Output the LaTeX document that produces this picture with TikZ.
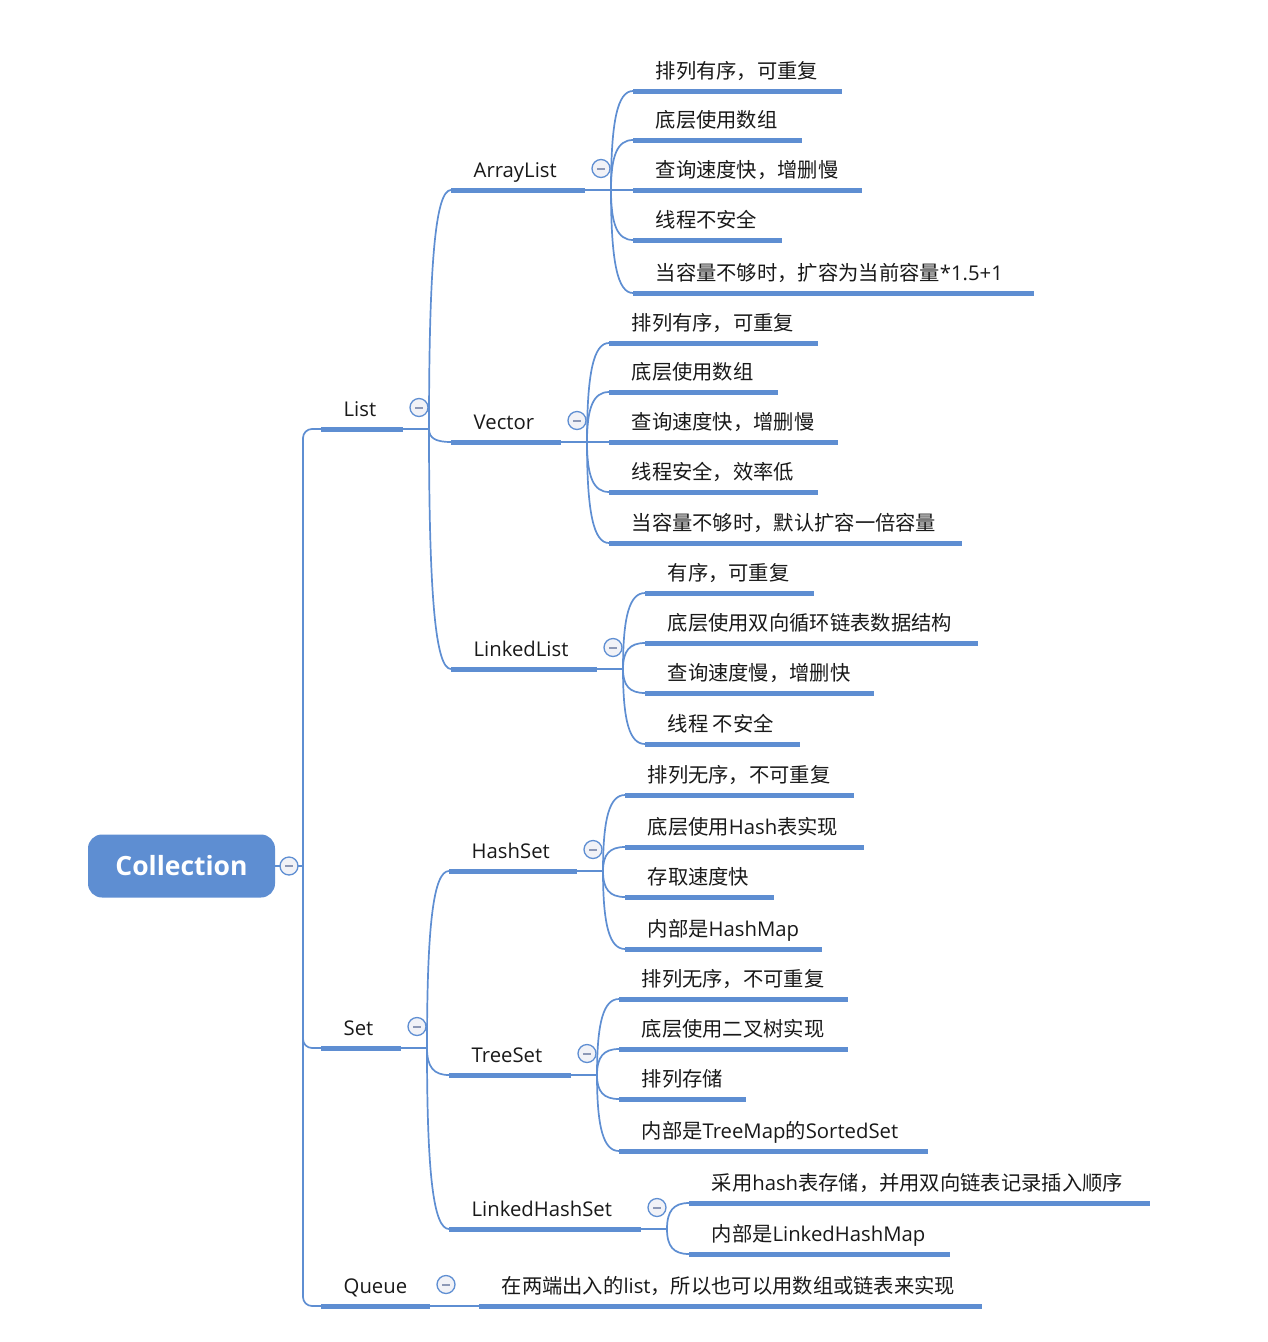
\documentclass[tikz,border=0pt]{standalone}
\usepackage{fontspec}
\setmainfont{Open Sans}
\newfontfamily\cjkfont{Noto Sans CJK SC}
\newcommand\zhs[1]{{\cjkfont #1}}
\usetikzlibrary{calc}
\definecolor{mmblue}{RGB}{94,142,210}
\definecolor{foldfill}{RGB}{241,242,247}
\definecolor{foldbar}{RGB}{140,152,182}
\tikzset{
  uline/.style={mmblue,line width=5pt},                % topic underline
  branch/.style={mmblue,line width=1.7pt},             % thin connector
  twig/.style={to path={.. controls ($(\tikztostart)!0.7!(\tikztostart |- \tikztotarget)$)
      and ($(\tikztostart |- \tikztotarget)!0.3!(\tikztotarget)$) .. (\tikztotarget)}}, % curved branch
  lbl/.style={anchor=base west,inner sep=0pt,text=black!90,font=\fontsize{20.3}{24}\selectfont},
  fold/.style={circle,draw=mmblue,fill=foldfill,line width=1.3pt,minimum size=18pt,inner sep=0pt,
    path picture={\draw[foldbar,line width=2pt] ([xshift=-4pt]path picture bounding box.center)
      -- ([xshift=4pt]path picture bounding box.center);}},  % collapse button
  rootbox/.style={rounded corners=14pt,fill=mmblue,text=white,minimum width=187pt,minimum height=63pt,
    inner sep=0pt,font=\fontsize{26.5}{30}\bfseries\selectfont},
}
% topic: name, x start, x end, y, text
\newcommand\mmtopic[5]{%
  \coordinate (#1-s) at (#2,#4);
  \coordinate (#1-e) at (#3,#4);
  \draw[uline] (#1-s) -- (#1-e);
  \node[lbl] (#1) at ($(#1-s)+(22.5,-13)$) {#5};
}
% junction and collapse button after a topic
\newcommand\mmhub[1]{%
  \coordinate (#1-j) at ($(#1-e)+(26,0)$);
  \draw[branch] (#1-e) -- (#1-j);
  \node[fold] (#1-f) at ($(#1-e)+(16,-21.5)$) {};
}

\begin{document}
\begin{tikzpicture}[x=1pt,y=-1pt]
  \useasboundingbox (0,0) rectangle (1268,1342);

  % root
  \node[rootbox] (root) at (181.5,866) {Collection};
  \coordinate (root-j) at (303,866);
  \draw[branch] (root) -- (root-j);
  \node[fold] (root-f) at (289,866) {};

  % first level
  \mmtopic{list}{321}{403}{429}{List}
  \mmtopic{set}{321}{401}{1048}{Set}
  \mmtopic{queue}{321}{430}{1306}{Queue}
  \foreach \c in {list,set,queue}{
    \draw[branch,rounded corners=9pt] (root-j) |- (\c-s);
    \mmhub{\c}
  }

  % second level
  \mmtopic{arr}{451}{585}{190}{ArrayList}
  \mmtopic{vec}{451}{561}{442}{Vector}
  \mmtopic{lnk}{451}{597}{669}{LinkedList}
  \mmtopic{hs}{449}{577}{871}{HashSet}
  \mmtopic{ts}{449}{571}{1075}{TreeSet}
  \mmtopic{lhs}{449}{641}{1229}{LinkedHashSet}
  \foreach \p/\c in {list/arr,list/vec,list/lnk,set/hs,set/ts,set/lhs}{
    \draw[branch] (\p-j) to[twig] (\c-s);
    \mmhub{\c}
  }

  % leaves
  \foreach \k/\y/\xe/\t in {1/91/842/{\zhs{排列有序，可重复}},2/140/802/{\zhs{底层使用数组}},
      3/190/862/{\zhs{查询速度快，增删慢}},4/240/782/{\zhs{线程不安全}},
      5/293/1034/{\zhs{当容量不够时，扩容为当前容量}*1.5+1}}{
    \mmtopic{arr\k}{633}{\xe}{\y}{\t}
    \draw[branch] (arr-j) to[twig] (arr\k-s);
  }
  \foreach \k/\y/\xe/\t in {1/343/818/{\zhs{排列有序，可重复}},2/392/778/{\zhs{底层使用数组}},
      3/442/838/{\zhs{查询速度快，增删慢}},4/492/818/{\zhs{线程安全，效率低}},
      5/543/962/{\zhs{当容量不够时，默认扩容一倍容量}}}{
    \mmtopic{vec\k}{609}{\xe}{\y}{\t}
    \draw[branch] (vec-j) to[twig] (vec\k-s);
  }
  \foreach \k/\y/\xe/\t in {1/593/814/{\zhs{有序，可重复}},2/643/978/{\zhs{底层使用双向循环链表数据结构}},
      3/693/874/{\zhs{查询速度慢，增删快}},4/744/800/{\zhs{线程 不安全}}}{
    \mmtopic{lnk\k}{645}{\xe}{\y}{\t}
    \draw[branch] (lnk-j) to[twig] (lnk\k-s);
  }
  \foreach \k/\y/\xe/\t in {1/795/854/{\zhs{排列无序，不可重复}},2/847/864/{\zhs{底层使用}Hash\zhs{表实现}},
      3/897/774/{\zhs{存取速度快}},4/949/822/{\zhs{内部是}HashMap}}{
    \mmtopic{hs\k}{625}{\xe}{\y}{\t}
    \draw[branch] (hs-j) to[twig] (hs\k-s);
  }
  \foreach \k/\y/\xe/\t in {1/999/848/{\zhs{排列无序，不可重复}},2/1049/848/{\zhs{底层使用二叉树实现}},
      3/1099/746/{\zhs{排列存储}},4/1151/928/{\zhs{内部是}TreeMap\zhs{的}SortedSet}}{
    \mmtopic{ts\k}{619}{\xe}{\y}{\t}
    \draw[branch] (ts-j) to[twig] (ts\k-s);
  }
  \foreach \k/\y/\xe/\t in {1/1203/1150/{\zhs{采用}hash\zhs{表存储，并用双向链表记录插入顺序}},
      2/1254/950/{\zhs{内部是}LinkedHashMap}}{
    \mmtopic{lhs\k}{689}{\xe}{\y}{\t}
    \draw[branch] (lhs-j) to[twig] (lhs\k-s);
  }
  \mmtopic{que1}{479}{982}{1306}{\zhs{在两端出入的}list\zhs{，所以也可以用数组或链表来实现}}
  \draw[branch] (queue-j) to[twig] (que1-s);
\end{tikzpicture}
\end{document}
